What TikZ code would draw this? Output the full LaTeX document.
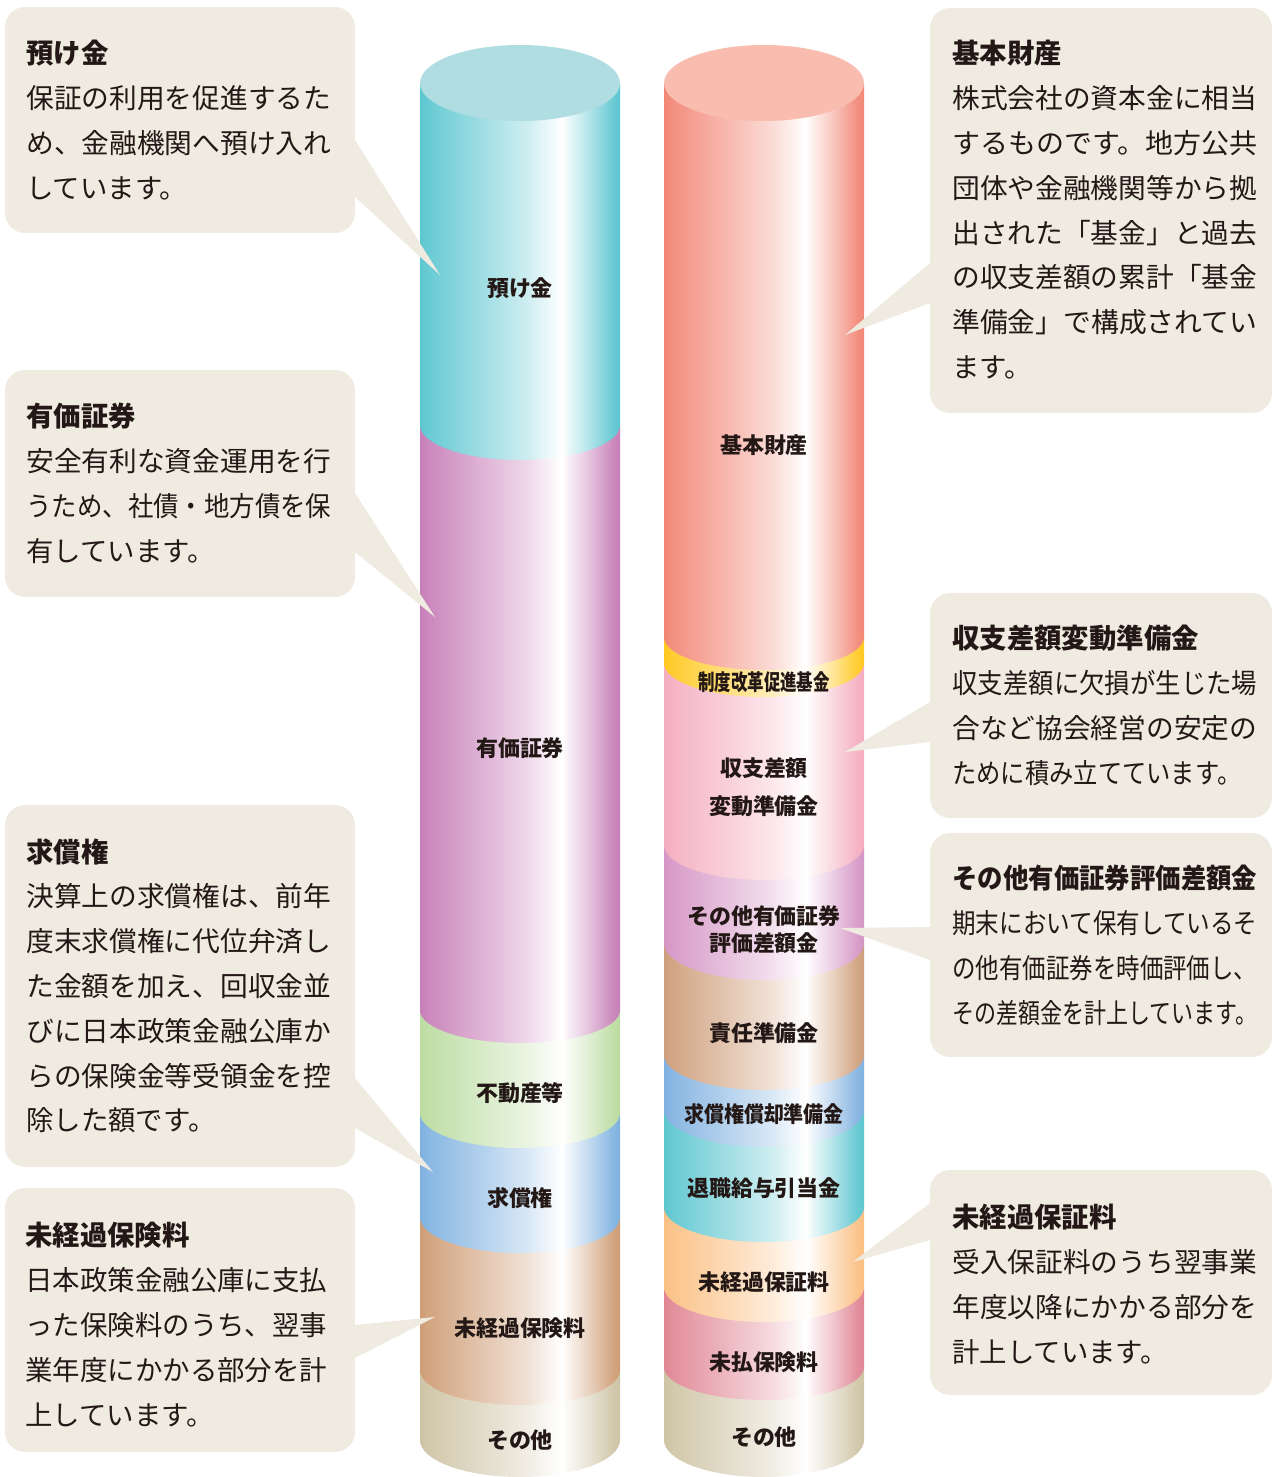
\documentclass[tikz,border=0pt]{standalone}
\usepackage{fontspec}
\setmainfont{Noto Sans CJK JP}
\usepackage{graphicx}

\definecolor{ink}{HTML}{231815}
\definecolor{notebg}{HTML}{EFEBE1}
\definecolor{depc}{HTML}{5CC6D0}
\definecolor{depctop}{HTML}{B0DDE2}
\definecolor{secc}{HTML}{C77EB8}
\definecolor{estc}{HTML}{BBDCA0}
\definecolor{clmc}{HTML}{7EB1E0}
\definecolor{prec}{HTML}{CF9D76}
\definecolor{othc}{HTML}{CEC3A4}
\definecolor{basc}{HTML}{F28675}
\definecolor{basctop}{HTML}{F9BDAF}
\definecolor{refc}{HTML}{FFC820}
\definecolor{balc}{HTML}{F4ADBF}
\definecolor{valc}{HTML}{D595C5}
\definecolor{resc}{HTML}{CE9E7A}
\definecolor{amoc}{HTML}{80B1E0}
\definecolor{retc}{HTML}{5CC6CF}
\definecolor{guac}{HTML}{FBBF82}
\definecolor{payc}{HTML}{E08594}

% glossy band across a column
\colorlet{cyl}{white}
\pgfdeclarehorizontalshading[cyl]{cylshade}{100bp}{color(0bp)=(cyl); color(25bp)=(cyl);
  color(27bp)=(cyl!92!white); color(40bp)=(cyl!60!white); color(52bp)=(cyl!30!white);
  color(59bp)=(cyl!5!white); color(60.5bp)=(white); color(62bp)=(cyl!12!white);
  color(67bp)=(cyl!45!white); color(73bp)=(cyl!90!white); color(75bp)=(cyl); color(100bp)=(cyl)}

\newcommand\fullline[2][6.1cm]{\resizebox{#1}{\height}{#2}}

\begin{document}
\begin{tikzpicture}[x=0.02cm, y=0.02cm,
    notebox/.style={fill=notebg, rounded corners=0.4cm, inner sep=0pt, outer sep=0pt},
    memo/.style={anchor=north west, inner sep=0pt, align=left, text=ink,
      font=\fontsize{15.6pt}{25.5pt}\selectfont},
    lab/.style={text=ink, inner sep=0pt, align=center,
      font=\bfseries\fontsize{12.5pt}{15pt}\selectfont}]
    \useasboundingbox (0,0) rectangle (1271,-1477);

    % left column (assets)
    \foreach \yt/\yb/\ry/\col in {1370/1440/37/othc, 1217/1370/35/prec, 1113/1217/36/clmc,
        1010/1113/35/estc, 425/1010/33/secc, 83/425/35/depc}{
      \colorlet{cyl}{\col}
      \shade[shading=cylshade] (420,-\yt) -- (420,-\yb)
        arc[start angle=180, end angle=360, x radius=100, y radius=\ry] -- (620,-\yt) -- cycle;
    }
    \fill[depctop] (520,-83) ellipse [x radius=100, y radius=38];

    % right column (liabilities)
    \foreach \yt/\yb/\ry/\col in {1367/1440/37/othc, 1287/1367/33/payc, 1207/1287/35/guac,
        1110/1207/35/retc, 1055/1110/37/amoc, 943/1055/35/resc, 845/943/37/valc,
        663/845/35/balc, 637/663/34/refc, 83/637/33/basc}{
      \colorlet{cyl}{\col}
      \shade[shading=cylshade] (664,-\yt) -- (664,-\yb)
        arc[start angle=180, end angle=360, x radius=100, y radius=\ry] -- (864,-\yt) -- cycle;
    }
    \fill[basctop] (764,-83) ellipse [x radius=100, y radius=38];

    \node[lab] (lDep) at (520,-288) {預け金};
    \node[lab] (lSec) at (520,-748) {有価証券};
    \node[lab] (lEst) at (520,-1093) {不動産等};
    \node[lab] (lClm) at (520,-1198) {求償権};
    \node[lab] (lPre) at (520,-1328) {未経過保険料};
    \node[lab] (lOthA) at (520,-1440) {その他};

    \node[lab] (lBas) at (764,-445) {基本財産};
    \node[lab] (lRef) at (764,-682) {\scalebox{0.75}[1]{制度改革促進基金}};
    \node[lab, font=\bfseries\fontsize{12.5pt}{21.5pt}\selectfont] (lBal) at (764,-787) {収支差額\\変動準備金};
    \node[lab, font=\bfseries\fontsize{12.5pt}{15.3pt}\selectfont] (lVal) at (764,-930) {その他有価証券\\評価差額金};
    \node[lab] (lRes) at (764,-1033) {責任準備金};
    \node[lab] (lAmo) at (764,-1114) {\scalebox{0.91}[1]{求償権償却準備金}};
    \node[lab] (lRet) at (764,-1188) {退職給与引当金};
    \node[lab] (lGua) at (764,-1282) {未経過保証料};
    \node[lab] (lPay) at (764,-1362) {未払保険料};
    \node[lab] (lOthB) at (764,-1437) {その他};

    % callouts
    \coordinate (tA) at (440,-275);
    \coordinate (tB) at (435,-617);
    \coordinate (tC) at (433,-1172);
    \coordinate (tD) at (435,-1317);
    \coordinate (tE) at (845,-335);
    \coordinate (tF) at (845,-752);
    \coordinate (tG) at (840,-928);
    \coordinate (tH) at (853,-1262);

    \node[notebox, minimum width=7cm, minimum height=4.52cm] (bA) at (180,-120) {};
    \node[notebox, minimum width=7cm, minimum height=4.54cm] (bB) at (180,-483.5) {};
    \node[notebox, minimum width=7cm, minimum height=7.24cm] (bC) at (180,-986) {};
    \node[notebox, minimum width=7cm, minimum height=5.28cm] (bD) at (180,-1320) {};
    \node[notebox, minimum width=6.84cm, minimum height=8.1cm] (bE) at (1101,-210.5) {};
    \node[notebox, minimum width=6.84cm, minimum height=4.5cm] (bF) at (1101,-705.5) {};
    \node[notebox, minimum width=6.84cm, minimum height=4.48cm] (bG) at (1101,-945) {};
    \node[notebox, minimum width=6.84cm, minimum height=4.5cm] (bH) at (1101,-1282.5) {};

    \fill[notebg] (bA.east |- 0,-140) -- (tA) -- (bA.east |- 0,-197) -- cycle;
    \fill[notebg] (bB.east |- 0,-493) -- (tB) -- (bB.east |- 0,-552) -- cycle;
    \fill[notebg] (bC.east |- 0,-1078) -- (tC) -- (bC.east |- 0,-1128) -- cycle;
    \fill[notebg] (bD.east |- 0,-1325) -- (tD) -- (bD.east |- 0,-1358) -- cycle;
    \fill[notebg] (bE.west |- 0,-263) -- (tE) -- (bE.west |- 0,-303) -- cycle;
    \fill[notebg] (bF.west |- 0,-702) -- (tF) -- (bF.west |- 0,-742) -- cycle;
    \fill[notebg] (bG.west |- 0,-927) -- (tG) -- (bG.west |- 0,-960) -- cycle;
    \fill[notebg] (bH.west |- 0,-1203) -- (tH) -- (bH.west |- 0,-1240) -- cycle;

    \node[memo] (mA) at (26,-40) {\textbf{預け金}\\
      \fullline{保証の利用を促進するた}\\
      \fullline{め、金融機関へ預け入れ}\\
      しています。};
    \node[memo] (mB) at (26,-403) {\textbf{有価証券}\\
      \fullline{安全有利な資金運用を行}\\
      \fullline{うため、社債・地方債を保}\\
      有しています。};
    \node[memo] (mC) at (26,-838) {\textbf{求償権}\\
      \fullline{決算上の求償権は、前年}\\
      \fullline{度末求償権に代位弁済し}\\
      \fullline{た金額を加え、回収金並}\\
      \fullline{びに日本政策金融公庫か}\\
      \fullline{らの保険金等受領金を控}\\
      除した額です。};
    \node[memo] (mD) at (25,-1222) {\textbf{未経過保険料}\\
      \fullline[6.04cm]{日本政策金融公庫に支払}\\
      \fullline[6.04cm]{った保険料のうち、翌事}\\
      \fullline[6.04cm]{業年度にかかる部分を計}\\
      上しています。};

    \node[memo] (mE) at (952,-40) {\textbf{基本財産}\\
      \fullline{株式会社の資本金に相当}\\
      \fullline{するものです。地方公共}\\
      \fullline{団体や金融機関等から拠}\\
      \fullline{出された「基金」と過去}\\
      \fullline{の収支差額の累計「基金}\\
      \fullline{準備金」で構成されてい}\\
      ます。};
    \node[memo] (mF) at (952,-625) {\textbf{収支差額変動準備金}\\
      \fullline{収支差額に欠損が生じた場}\\
      \fullline{合など協会経営の安定の}\\
      \fullline[5.78cm]{ために積み立てています。}};
    \node[memo] (mG) at (952,-865) {\fullline{\textbf{その他有価証券評価差額金}}\\
      \fullline{期末において保有しているそ}\\
      \fullline{の他有価証券を時価評価し、}\\
      \fullline{その差額金を計上しています。}};
    \node[memo] (mH) at (952,-1204) {\textbf{未経過保証料}\\
      \fullline{受入保証料のうち翌事業}\\
      \fullline{年度以降にかかる部分を}\\
      計上しています。};
\end{tikzpicture}
\end{document}
